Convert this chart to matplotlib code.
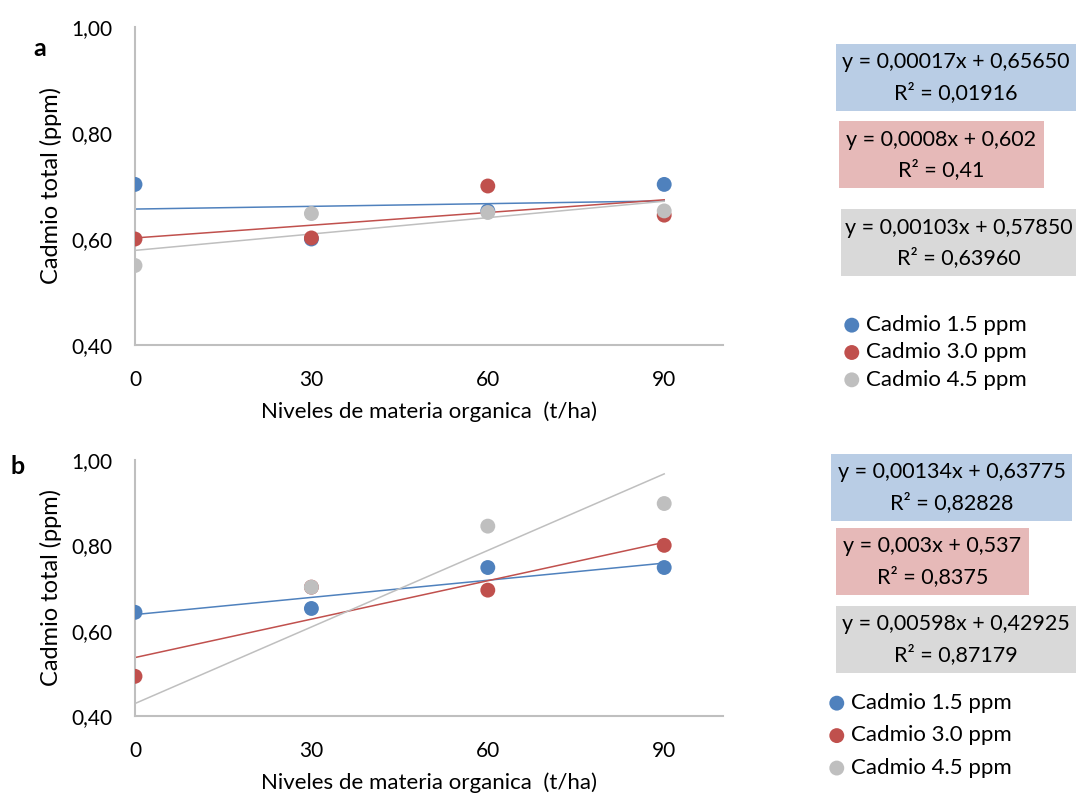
import matplotlib
matplotlib.use("Agg")
import matplotlib.pyplot as plt
from matplotlib.patches import Rectangle
from matplotlib.ticker import FuncFormatter

plt.rcParams['font.family'] = ['Lato', 'DejaVu Sans']

# Niveles de materia organica (t/ha)
niveles = [0, 30, 60, 90]
series = ['Cadmio 1.5 ppm', 'Cadmio 3.0 ppm', 'Cadmio 4.5 ppm']

# Cadmio total (ppm), panel a
cd_a_15 = [0.703, 0.600, 0.653, 0.703]
cd_a_30 = [0.600, 0.602, 0.700, 0.645]
cd_a_45 = [0.550, 0.648, 0.650, 0.653]

# Cadmio total (ppm), panel b
cd_b_15 = [0.643, 0.652, 0.748, 0.748]
cd_b_30 = [0.493, 0.702, 0.695, 0.800]
cd_b_45 = [0.350, 0.702, 0.845, 0.898]

# linear trend coefficients (slope, intercept) and R2
trend_a = [(0.00017, 0.65650), (0.0008, 0.602), (0.00103, 0.57850)]
r2_a = ['0,01916', '0,41', '0,63960']
eq_a = ['0,00017x + 0,65650', '0,0008x + 0,602', '0,00103x + 0,57850']

trend_b = [(0.00134, 0.63775), (0.003, 0.537), (0.00598, 0.42925)]
r2_b = ['0,82828', '0,8375', '0,87179']
eq_b = ['0,00134x + 0,63775', '0,003x + 0,537', '0,00598x + 0,42925']

colors = ['#4F81BD', '#C0504D', '#BFBFBF']
box_colors = ['#B9CDE5', '#E6B9B8', '#D9D9D9']

W, H = 1076, 798
fig = plt.figure(figsize=(W / 100, H / 100), dpi=100)


def fx(px):
    return px / W


def fy(py):
    return 1 - py / H


def draw_panel(rect, data, trends, letter, letter_xy, legend_xy, spacing):
    ax = fig.add_axes(rect)
    for i, ys in enumerate(data):
        m, b = trends[i]
        ax.plot([niveles[0], niveles[-1]], [b + m * niveles[0], b + m * niveles[-1]],
                color=colors[i], lw=1.1, zorder=2)
    for i, ys in enumerate(data):
        ax.scatter(niveles, ys, s=115, color=colors[i], edgecolors='none',
                   zorder=3, label=series[i])
    ax.set_xlim(0, 100)
    ax.set_ylim(0.40, 1.00)
    ax.set_xticks(niveles)
    ax.set_yticks([0.40, 0.60, 0.80, 1.00])
    ax.yaxis.set_major_formatter(FuncFormatter(lambda v, p: f"{v:.2f}".replace('.', ',')))
    for s in ['top', 'right']:
        ax.spines[s].set_visible(False)
    for s in ['left', 'bottom']:
        ax.spines[s].set_color('#BFBFBF')
        ax.spines[s].set_linewidth(1.5)
    ax.tick_params(length=0, labelsize=15)
    ax.tick_params(axis='y', pad=16)
    ax.tick_params(axis='x', pad=18)
    ax.set_xlabel('Niveles de materia organica  (t/ha)', fontsize=16, labelpad=8)
    ax.set_ylabel('Cadmio total (ppm)', fontsize=17, labelpad=7)
    fig.text(fx(letter_xy[0]), fy(letter_xy[1]), letter, fontsize=18,
             fontweight='bold', ha='center', va='center')
    ax.legend(loc='upper left', bbox_to_anchor=(fx(legend_xy[0]), fy(legend_xy[1])),
              bbox_transform=fig.transFigure, frameon=False, fontsize=16,
              handlelength=0.7, handletextpad=0.3, labelspacing=spacing,
              borderpad=0, borderaxespad=0, markerscale=1.0)
    return ax


def eq_box(x0, y0, x1, y1, color, eq, r2):
    fig.patches.append(Rectangle((fx(x0), fy(y1)), fx(x1 - x0), fy(y0) - fy(y1),
                                 transform=fig.transFigure, facecolor=color,
                                 edgecolor='none', zorder=0))
    cx = fx((x0 + x1) / 2)
    cy = (y0 + y1) / 2
    fig.text(cx, fy(cy - 15), 'y = ' + eq, fontsize=15.5, ha='center', va='center')
    fig.text(cx, fy(cy + 15), 'R² = ' + r2, fontsize=15.5, ha='center', va='center')


draw_panel([fx(135), fy(345), fx(723 - 135), fy(27) - fy(345)],
           [cd_a_15, cd_a_30, cd_a_45], trend_a, 'a', (40, 48), (844, 315), 0.33)
draw_panel([fx(135), fy(716), fx(723 - 135), fy(460) - fy(716)],
           [cd_b_15, cd_b_30, cd_b_45], trend_b, 'b', (18, 467), (829, 693), 0.56)

boxes_a = [(836, 44, 1076, 111), (839, 121, 1044, 188), (841, 209, 1076, 276)]
boxes_b = [(831, 454, 1072, 521), (836, 528, 1029, 595), (836, 606, 1076, 673)]
for i in range(3):
    eq_box(*boxes_a[i], box_colors[i], eq_a[i], r2_a[i])
    eq_box(*boxes_b[i], box_colors[i], eq_b[i], r2_b[i])

fig.savefig('out.png', dpi=100)
